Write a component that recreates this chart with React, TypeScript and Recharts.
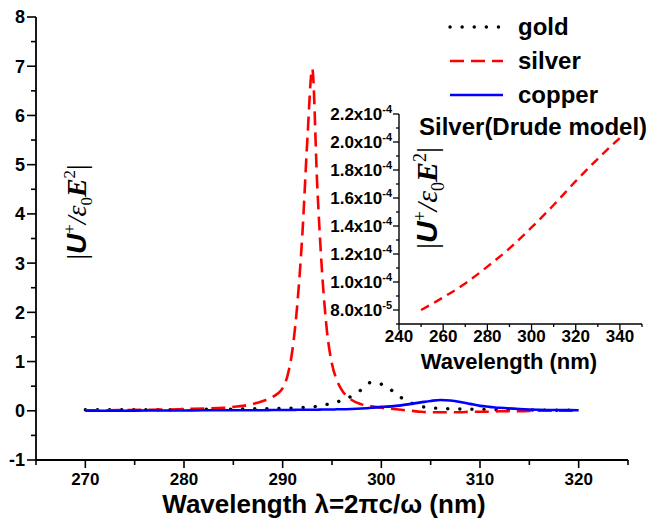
import { LineChart, Line, XAxis, YAxis, Legend, Label } from "recharts";

// main plot: |U+/e0E^2| vs wavelength (nm)
const wavelength = [
  270, 272, 274, 276, 278, 280, 282, 284, 285, 286, 287, 288, 289,
  289.5, 290, 290.5, 291, 291.5, 292, 292.5, 293, 293.5, 294, 294.5, 295, 295.5, 296,
  297, 298, 299, 300, 301, 302, 303, 304, 305, 306, 307, 308, 309, 310, 311, 312,
  314, 316, 318, 320,
];
const gold = [
  0.02, 0.02, 0.02, 0.02, 0.02, 0.025, 0.03, 0.03, 0.035, 0.035, 0.04, 0.04, 0.045,
  0.045, 0.05, 0.05, 0.055, 0.06, 0.065, 0.07, 0.08, 0.09, 0.11, 0.13, 0.15, 0.18, 0.21,
  0.3, 0.43, 0.58, 0.54, 0.42, 0.27, 0.16, 0.09, 0.06, 0.05, 0.04, 0.035, 0.03, 0.03, 0.025, 0.02,
  0.02, 0.015, 0.01, 0.01,
];
const silver = [
  0.01, 0.01, 0.015, 0.02, 0.025, 0.035, 0.045, 0.06, 0.08, 0.1, 0.14, 0.2, 0.28,
  0.35, 0.46, 0.72, 1.25, 2.2, 3.6, 5.5, 6.95, 4.6, 2.8, 1.6, 0.95, 0.62, 0.42,
  0.22, 0.13, 0.09, 0.06, 0.04, 0.02, 0.0, -0.02, -0.03, -0.03, -0.03, -0.03, -0.02, -0.02, -0.02, -0.01,
  -0.01, 0, 0, 0,
];
const copper = [
  0, 0, 0, 0.005, 0.005, 0.005, 0.01, 0.01, 0.01, 0.01, 0.01, 0.01, 0.015,
  0.015, 0.015, 0.015, 0.015, 0.02, 0.02, 0.02, 0.02, 0.02, 0.025, 0.025, 0.025, 0.03, 0.03,
  0.035, 0.045, 0.06, 0.08, 0.09, 0.11, 0.14, 0.17, 0.2, 0.22, 0.21, 0.18, 0.14, 0.1, 0.08, 0.06,
  0.035, 0.02, 0.015, 0.01,
];
const seriesKeys = ["gold", "silver", "copper"];

const xTicks = [265, 270, 275, 280, 285, 290, 295, 300, 305, 310, 315, 320, 325];
const xLabelled = [270, 280, 290, 300, 310, 320];
const yTicks = [-1, -0.5, 0, 0.5, 1, 1.5, 2, 2.5, 3, 3.5, 4, 4.5, 5, 5.5, 6, 6.5, 7, 7.5, 8];

// inset: silver, Drude model
const insetWavelength = [250, 260, 270, 280, 290, 300, 310, 320, 330, 340];
const drudeSilver = [8.0e-5, 8.9e-5, 9.9e-5, 1.11e-4, 1.24e-4, 1.39e-4, 1.55e-4, 1.72e-4, 1.88e-4, 2.03e-4];
const insetXTicks = [240, 250, 260, 270, 280, 290, 300, 310, 320, 330, 340, 350];
const insetXLabelled = [240, 260, 280, 300, 320, 340];
const insetYTicks = [7e-5, 8e-5, 9e-5, 1.0e-4, 1.1e-4, 1.2e-4, 1.3e-4, 1.4e-4, 1.5e-4, 1.6e-4, 1.7e-4, 1.8e-4, 1.9e-4, 2.0e-4, 2.1e-4, 2.2e-4];
const insetYLabelled = [8e-5, 1.0e-4, 1.2e-4, 1.4e-4, 1.6e-4, 1.8e-4, 2.0e-4, 2.2e-4];

const mainRows = wavelength.map((w, i) => ({ w, gold: gold[i], silver: silver[i], copper: copper[i] }));
const insetRows = insetWavelength.map((w, i) => ({ w, silver: drudeSilver[i] }));

const SANS = "'Liberation Sans', Arial, sans-serif";
const SERIF = "'Liberation Serif', 'Times New Roman', serif";

const seriesStyle: Record<string, { color: string; dash?: string; width: number; cap: "round" | "butt" }> = {
  gold: { color: "#000000", dash: "0.1 12", width: 3.4, cap: "round" },
  silver: { color: "#ff0000", dash: "14 7", width: 2.6, cap: "butt" },
  copper: { color: "#0000ff", width: 2.6, cap: "butt" },
};

const inList = (list: number[], v: number) => list.some((t) => Math.abs(t - v) < 1e-9);

function sciParts(v: number) {
  const exp = Math.floor(Math.log10(v) + 1e-9);
  return { mant: (v / Math.pow(10, exp)).toFixed(1), exp };
}

function MainXTick({ x, y, payload }: any) {
  const major = inList(xLabelled, payload.value);
  return (
    <g>
      <line x1={x} x2={x} y1={y} y2={y + (major ? 8 : 5)} stroke="#000" strokeWidth={1.6} />
      {major && (
        <text x={x} y={y + 25} textAnchor="middle" fontFamily={SANS} fontWeight="bold" fontSize={17} fill="#000">
          {payload.value}
        </text>
      )}
    </g>
  );
}

function MainYTick({ x, y, payload }: any) {
  const major = Number.isInteger(payload.value);
  return (
    <g>
      <line x1={x - (major ? 9 : 5)} x2={x} y1={y} y2={y} stroke="#000" strokeWidth={1.6} />
      {major && (
        <text x={x - 11} y={y} dy="0.36em" textAnchor="end" fontFamily={SANS} fontWeight="bold" fontSize={18} fill="#000">
          {payload.value}
        </text>
      )}
    </g>
  );
}

function InsetXTick({ x, y, payload }: any) {
  const major = inList(insetXLabelled, payload.value);
  return (
    <g>
      <line x1={x} x2={x} y1={y} y2={y + (major ? 6 : 3)} stroke="#000" strokeWidth={1.3} />
      {major && (
        <text x={x} y={y + 18} textAnchor="middle" fontFamily={SANS} fontWeight="bold" fontSize={17} fill="#000">
          {payload.value}
        </text>
      )}
    </g>
  );
}

function InsetYTick({ x, y, payload }: any) {
  const major = inList(insetYLabelled, payload.value);
  const { mant, exp } = sciParts(payload.value);
  return (
    <g>
      <line x1={x - (major ? 6 : 3)} x2={x} y1={y} y2={y} stroke="#000" strokeWidth={1.3} />
      {major && (
        <text x={x - 7} y={y} dy="0.36em" textAnchor="end" fontFamily={SANS} fontWeight="bold" fontSize={17} fill="#000">
          {mant}x10
          <tspan fontSize={11} dy={-7}>{exp}</tspan>
        </text>
      )}
    </g>
  );
}

// |U+/e0E^2| written sideways
function EnergyLabel({ x, y, size }: { x: number; y: number; size: number }) {
  const small = size * 0.6;
  return (
    <text x={x} y={y} transform={`rotate(-90 ${x} ${y})`} textAnchor="middle" fontFamily={SERIF} fontSize={size} fill="#000">
      <tspan>|</tspan>
      <tspan fontFamily={SANS} fontWeight="bold" fontStyle="italic">U</tspan>
      <tspan fontSize={small} dy={-size * 0.38}>+</tspan>
      <tspan dy={size * 0.38} fontStyle="italic">/</tspan>
      <tspan fontStyle="italic">ε</tspan>
      <tspan fontSize={small} dy={size * 0.22}>0</tspan>
      <tspan dy={-size * 0.22} fontWeight="bold" fontStyle="italic">E</tspan>
      <tspan fontSize={small} dy={-size * 0.38}>2</tspan>
      <tspan dy={size * 0.38}>|</tspan>
    </text>
  );
}

function renderLegend({ payload }: any) {
  const entries = seriesKeys
    .map((k) => (payload ?? []).find((p: any) => p.dataKey === k))
    .filter(Boolean);
  return (
    <div>
      {entries.map((entry: any) => {
        const s = seriesStyle[entry.dataKey];
        return (
          <div key={entry.dataKey} style={{ display: "flex", alignItems: "center", height: 34 }}>
            <svg width={56} height={10}>
              <line x1={2} x2={55} y1={5} y2={5} stroke={s.color} strokeWidth={s.width} strokeDasharray={s.dash} strokeLinecap={s.cap} />
            </svg>
            <span style={{ marginLeft: 14, fontFamily: SANS, fontWeight: "bold", fontSize: 24, color: "#000", lineHeight: "24px" }}>
              {entry.value}
            </span>
          </div>
        );
      })}
    </div>
  );
}

export default function App() {
  return (
    <div style={{ position: "absolute", left: 0, top: 0, width: 648, height: 521, background: "#fff" }}>
      <LineChart width={648} height={521} data={mainRows} margin={{ top: 17, right: 20, bottom: 0, left: 0 }}>
        <XAxis
          dataKey="w"
          type="number"
          domain={[265, 325]}
          ticks={xTicks}
          interval={0}
          height={61}
          tickSize={0}
          tickMargin={0}
          tickLine={false}
          tick={MainXTick}
          axisLine={{ stroke: "#000", strokeWidth: 1.8 }}
          allowDataOverflow
        >
          <Label
            content={() => (
              <text x={324} y={513} textAnchor="middle" fontFamily={SANS} fontWeight="bold" fontSize={26} fill="#000">
                Wavelength λ=2πc/ω (nm)
              </text>
            )}
          />
        </XAxis>
        <YAxis
          type="number"
          domain={[-1, 8]}
          ticks={yTicks}
          interval={0}
          width={36}
          tickSize={0}
          tickMargin={0}
          tickLine={false}
          tick={MainYTick}
          axisLine={{ stroke: "#000", strokeWidth: 1.8 }}
          allowDataOverflow
        >
          <Label content={() => <EnergyLabel x={86} y={212} size={28} />} />
        </YAxis>
        <Legend
          layout="vertical"
          align="center"
          verticalAlign="middle"
          wrapperStyle={{ left: 448, top: 10, width: 200, height: 104 }}
          content={renderLegend}
        />
        {seriesKeys.map((key) => (
          <Line
            key={key}
            name={key}
            dataKey={key}
            type="monotone"
            stroke={seriesStyle[key].color}
            strokeWidth={seriesStyle[key].width}
            strokeDasharray={seriesStyle[key].dash}
            strokeLinecap={seriesStyle[key].cap}
            dot={false}
            activeDot={false}
            isAnimationActive={false}
          />
        ))}
      </LineChart>

      <div style={{ position: "absolute", left: 330, top: 90 }}>
        <LineChart width={318} height={290} data={insetRows} margin={{ top: 24, right: 6, bottom: 0, left: 0 }}>
          <XAxis
            dataKey="w"
            type="number"
            domain={[240, 350]}
            ticks={insetXTicks}
            interval={0}
            height={56}
            tickSize={0}
            tickMargin={0}
            tickLine={false}
            tick={InsetXTick}
            axisLine={{ stroke: "#000", strokeWidth: 1.4 }}
            allowDataOverflow
          >
            <Label
              content={() => (
                <text x={179} y={279} textAnchor="middle" fontFamily={SANS} fontWeight="bold" fontSize={22} fill="#000">
                  Wavelength (nm)
                </text>
              )}
            />
            <Label
              content={() => (
                <text x={89} y={45} fontFamily={SANS} fontWeight="bold" fontSize={24} fill="#000">
                  Silver(Drude model)
                </text>
              )}
            />
          </XAxis>
          <YAxis
            type="number"
            domain={[7e-5, 2.2e-4]}
            ticks={insetYTicks}
            interval={0}
            width={69}
            tickSize={0}
            tickMargin={0}
            tickLine={false}
            tick={InsetYTick}
            axisLine={{ stroke: "#000", strokeWidth: 1.4 }}
            allowDataOverflow
          >
            <Label content={() => <EnergyLabel x={107} y={108} size={30} />} />
          </YAxis>
          <Line
            dataKey="silver"
            type="monotone"
            stroke="#ff0000"
            strokeWidth={2.4}
            strokeDasharray="9 6"
            dot={false}
            activeDot={false}
            isAnimationActive={false}
          />
        </LineChart>
      </div>
    </div>
  );
}
